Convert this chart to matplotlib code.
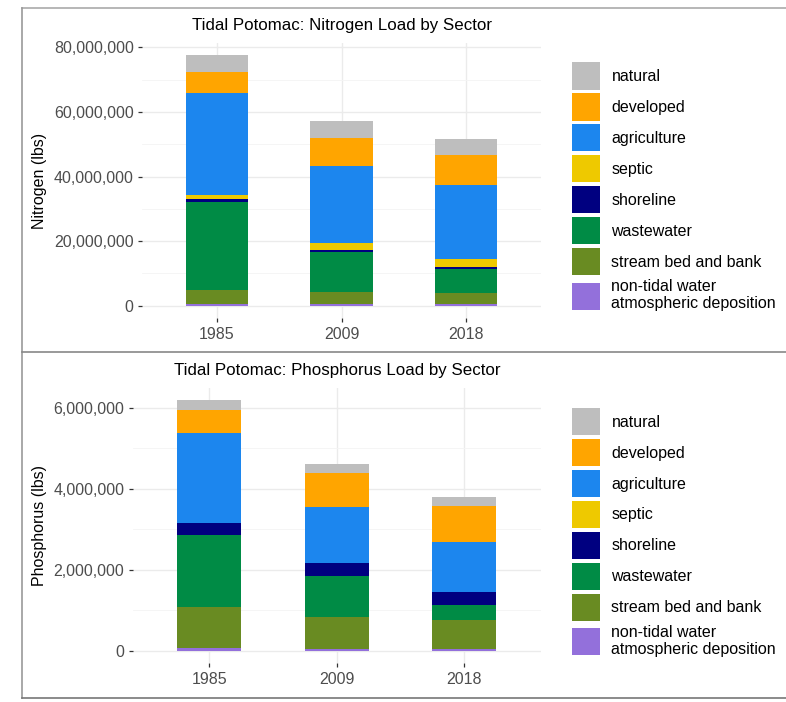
import numpy as np
import matplotlib
matplotlib.use('Agg')
import matplotlib.pyplot as plt
from matplotlib.patches import Patch
from matplotlib.lines import Line2D
from matplotlib.ticker import FuncFormatter, MultipleLocator

plt.rcParams['font.family'] = ['Liberation Sans', 'DejaVu Sans']

years = ['1985', '2009', '2018']

# stacking order, bottom to top
sectors = ['non-tidal water\natmospheric deposition', 'stream bed and bank', 'wastewater',
           'shoreline', 'septic', 'agriculture', 'developed', 'natural']
colors = ['#9370DB', '#698B22', '#008B45', '#000080', '#EEC900', '#1C86EE', '#FFA500', '#BEBEBE']

# nitrogen loads (lbs), one list per sector, values for 1985, 2009, 2018
n_nontidal = [0.7e6, 0.6e6, 0.6e6]
n_stream = [4.2e6, 3.7e6, 3.5e6]
n_wastewater = [27.3e6, 12.2e6, 7.4e6]
n_shoreline = [0.8e6, 0.7e6, 0.4e6]
n_septic = [1.3e6, 2.1e6, 2.5e6]
n_agriculture = [31.6e6, 23.9e6, 23.0e6]
n_developed = [6.3e6, 8.8e6, 9.3e6]
n_natural = [5.3e6, 5.1e6, 5.0e6]

# phosphorus loads (lbs)
p_nontidal = [0.06e6, 0.05e6, 0.05e6]
p_stream = [1.01e6, 0.78e6, 0.70e6]
p_wastewater = [1.79e6, 1.01e6, 0.37e6]
p_shoreline = [0.30e6, 0.32e6, 0.32e6]
p_septic = [0.005e6, 0.004e6, 0.004e6]
p_agriculture = [2.22e6, 1.38e6, 1.24e6]
p_developed = [0.56e6, 0.85e6, 0.88e6]
p_natural = [0.24e6, 0.22e6, 0.23e6]

nitrogen = [n_nontidal, n_stream, n_wastewater, n_shoreline, n_septic,
            n_agriculture, n_developed, n_natural]
phosphorus = [p_nontidal, p_stream, p_wastewater, p_shoreline, p_septic,
              p_agriculture, p_developed, p_natural]

W, H = 786, 702
fig = plt.figure(figsize=(W / 100, H / 100), dpi=100)


def px_axes(left, top, right, bottom):
    return fig.add_axes([left / W, 1 - bottom / H, (right - left) / W, (bottom - top) / H])


def stacked(ax, data, title, ylabel, major, leg_top):
    x = np.arange(len(years))
    base = np.zeros(len(years))
    for vals, col, lab in zip(data, colors, sectors):
        ax.bar(x, vals, 0.5, bottom=base, color=col, label=lab, zorder=3, linewidth=0)
        base += np.array(vals)
    top = base.max()
    ax.set_ylim(-0.05 * top, 1.05 * top)
    ax.set_xlim(-0.6, len(years) - 0.4)
    ax.set_xticks(x)
    ax.set_xticklabels(years)
    ax.yaxis.set_major_locator(MultipleLocator(major))
    ax.yaxis.set_minor_locator(MultipleLocator(major / 2))
    ax.yaxis.set_major_formatter(FuncFormatter(lambda v, p: f'{v:,.0f}'))
    ax.grid(True, which='major', color='#EBEBEB', lw=1.0, zorder=0)
    ax.grid(True, which='minor', axis='y', color='#F4F4F4', lw=0.6, zorder=0)
    for s in ax.spines.values():
        s.set_visible(False)
    ax.tick_params(axis='both', which='major', length=3, width=0.9, color='#333333',
                   labelsize=11.5, labelcolor='#4D4D4D', pad=3)
    ax.tick_params(axis='y', which='minor', length=0)
    ax.set_title(title, fontsize=12.2, pad=9.5)
    ax.set_ylabel(ylabel, fontsize=11.5, labelpad=5)
    handles = [Patch(facecolor=c, edgecolor='none', label=l) for c, l in zip(colors, sectors)][::-1]
    fig.legend(handles=handles, loc='upper left', bbox_to_anchor=(571.7 / W, 1 - leg_top / H),
               frameon=False, fontsize=11.5, handlelength=1.8, handleheight=2.25,
               labelspacing=0.23, handletextpad=0.69, borderpad=0, borderaxespad=0)


ax1 = px_axes(142, 42.8, 541, 318.3)
stacked(ax1, nitrogen, 'Tidal Potomac: Nitrogen Load by Sector', 'Nitrogen (lbs)', 20e6, 62.3)

ax2 = px_axes(132.8, 387.9, 540.8, 663.2)
stacked(ax2, phosphorus, 'Tidal Potomac: Phosphorus Load by Sector', 'Phosphorus (lbs)', 2e6, 408)

# screenshot frame lines
frame = [((22, 8), (W, 8), '#AAAAAA'), ((22, 8), (22, 698), '#999999'),
         ((22, 352), (W, 352), '#888888'), ((22, 698), (W, 698), '#777777')]
for (x0, y0), (x1, y1), c in frame:
    fig.add_artist(Line2D([x0 / W, x1 / W], [1 - y0 / H, 1 - y1 / H],
                          transform=fig.transFigure, color=c, lw=1.2))

fig.savefig('out.png', dpi=100)
